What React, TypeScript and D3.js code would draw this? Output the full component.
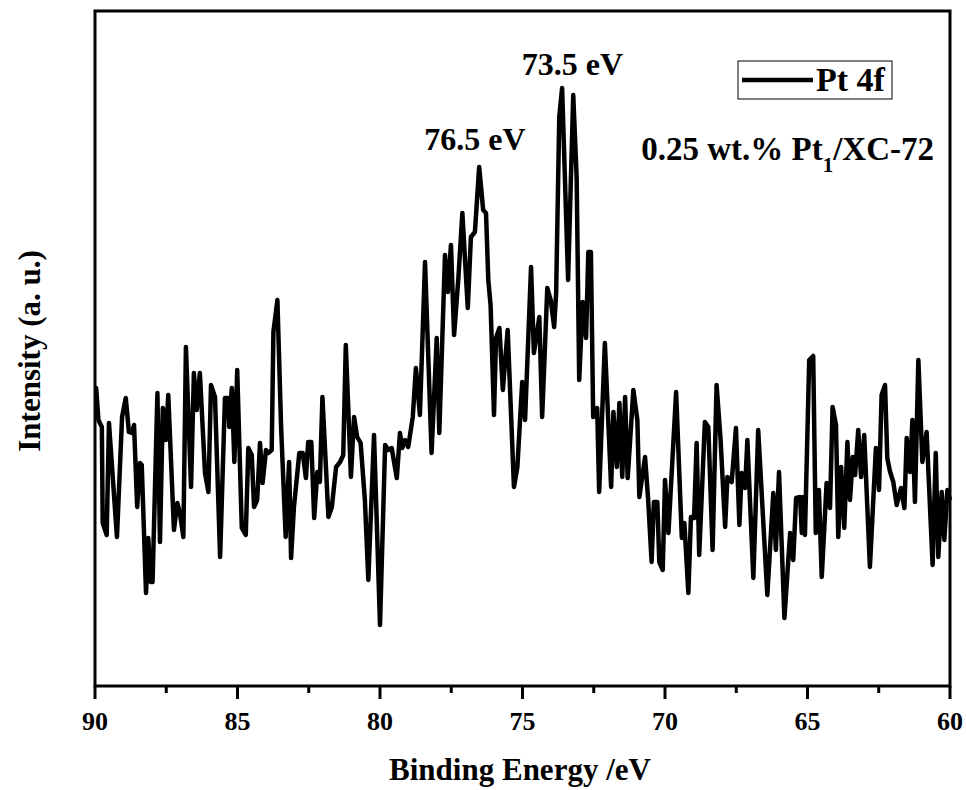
import React from "react";
import * as d3 from "d3";

// Binding energy (eV) and intensity (a.u.)
const energies: number[] = [
  90.0, 89.96, 89.88, 89.76, 89.73, 89.59, 89.51, 89.23, 89.05, 88.92, 88.81, 88.71, 88.63, 88.52, 88.42, 88.36,
  88.21, 88.13, 88.05, 87.98, 87.81, 87.72, 87.62, 87.51, 87.43, 87.23, 87.11, 87.02, 86.9, 86.81, 86.63, 86.53,
  86.43, 86.32, 86.14, 86.02, 85.93, 85.79, 85.61, 85.44, 85.33, 85.29, 85.2, 85.11, 85.01, 84.85, 84.71, 84.62,
  84.5, 84.42, 84.31, 84.21, 84.12, 84.0, 83.92, 83.8, 83.74, 83.6, 83.47, 83.31, 83.19, 83.12, 83.02, 82.83,
  82.71, 82.6, 82.52, 82.41, 82.31, 82.2, 82.11, 82.02, 81.81, 81.69, 81.54, 81.4, 81.29, 81.2, 81.02, 80.91,
  80.8, 80.68, 80.53, 80.41, 80.21, 80.0, 79.82, 79.71, 79.59, 79.41, 79.3, 79.22, 79.12, 79.01, 78.85, 78.74,
  78.6, 78.42, 78.19, 78.01, 77.92, 77.72, 77.62, 77.51, 77.4, 77.25, 77.11, 76.92, 76.81, 76.67, 76.52, 76.38,
  76.28, 76.2, 76.12, 76.0, 75.93, 75.81, 75.69, 75.52, 75.3, 75.18, 75.01, 74.91, 74.7, 74.6, 74.41, 74.31,
  74.13, 74.01, 73.89, 73.82, 73.71, 73.61, 73.4, 73.22, 73.1, 73.01, 72.89, 72.77, 72.69, 72.6, 72.52, 72.38,
  72.31, 72.11, 71.89, 71.81, 71.69, 71.6, 71.5, 71.4, 71.31, 71.11, 70.97, 70.9, 70.7, 70.59, 70.47, 70.39,
  70.27, 70.2, 70.08, 70.0, 69.88, 69.61, 69.41, 69.32, 69.18, 69.09, 68.98, 68.89, 68.8, 68.6, 68.48, 68.33,
  68.19, 68.05, 67.89, 67.81, 67.66, 67.51, 67.39, 67.31, 67.19, 67.11, 66.9, 66.73, 66.41, 66.2, 66.11, 66.0,
  65.81, 65.61, 65.5, 65.4, 65.26, 65.2, 65.16, 65.09, 64.94, 64.8, 64.71, 64.6, 64.5, 64.33, 64.21, 64.12,
  64.0, 63.92, 63.82, 63.71, 63.6, 63.51, 63.41, 63.33, 63.22, 63.12, 63.01, 62.81, 62.6, 62.49, 62.4, 62.28,
  62.2, 62.11, 61.99, 61.87, 61.72, 61.6, 61.52, 61.4, 61.32, 61.23, 61.11, 60.97, 60.82, 60.61, 60.5, 60.41,
  60.29, 60.2, 60.09, 60.0,
];

const intensities: number[] = [
  298, 298, 266, 259, 163, 151, 263, 149, 269, 288, 254, 253, 261, 179, 223, 221,
  93, 148, 104, 104, 293, 144, 278, 246, 291, 156, 183, 173, 149, 339, 199, 313,
  276, 313, 213, 194, 301, 289, 129, 288, 288, 259, 298, 224, 316, 158, 151, 238,
  231, 179, 186, 243, 203, 236, 233, 236, 354, 386, 259, 149, 224, 128, 179, 233,
  233, 208, 244, 244, 168, 214, 204, 289, 169, 179, 219, 224, 231, 341, 209, 269,
  249, 243, 186, 106, 251, 61, 241, 236, 238, 208, 253, 238, 246, 239, 269, 318,
  271, 424, 233, 348, 253, 431, 394, 441, 351, 408, 473, 378, 449, 454, 519, 476,
  473, 406, 381, 271, 348, 358, 296, 356, 199, 219, 304, 266, 419, 333, 369, 269,
  398, 386, 359, 393, 569, 598, 406, 591, 509, 306, 384, 348, 434, 434, 269, 278,
  194, 343, 199, 274, 219, 283, 209, 289, 208, 296, 266, 189, 229, 186, 124, 184,
  184, 124, 116, 206, 153, 294, 148, 163, 93, 169, 168, 243, 131, 264, 259, 136,
  301, 246, 159, 209, 204, 258, 161, 213, 198, 246, 108, 256, 91, 193, 136, 214,
  68, 153, 126, 188, 189, 153, 189, 151, 326, 330, 153, 196, 109, 203, 178, 279,
  261, 149, 219, 158, 244, 186, 229, 211, 256, 209, 251, 119, 238, 196, 291, 301,
  228, 215, 204, 181, 198, 178, 248, 214, 266, 184, 326, 224, 254, 121, 233, 129,
  194, 146, 196, 186,
];

const majorTicks: number[] = [90, 85, 80, 75, 70, 65, 60];
const minorTicks: number[] = [87.5, 82.5, 77.5, 72.5, 67.5, 62.5];
const peakLabels: { text: string; energy: number; intensity: number }[] = [
  { text: "73.5 eV", energy: 73.25, intensity: 611 },
  { text: "76.5 eV", energy: 76.67, intensity: 536 },
];

const W = 966;
const H = 790;
const left = 95, right = 950, top = 11, bottom = 686;
const FONT = "'Liberation Serif', 'Times New Roman', serif";

export default function App() {
  const x = d3.scaleLinear().domain([90, 60]).range([left, right]);
  const y = d3.scaleLinear().domain([0, 675]).range([bottom, top]);
  const pts = energies.map((e, i) => [e, intensities[i]] as [number, number]);
  const line = d3
    .line<[number, number]>()
    .x((d) => x(d[0]))
    .y((d) => y(d[1]));

  return (
    <div style={{ position: "absolute", left: 0, top: 0 }}>
      <svg width={W} height={H} style={{ display: "block", background: "#fff" }} fontFamily={FONT}>
        <path d={line(pts) || ""} fill="none" stroke="#000" strokeWidth={4.5} strokeLinejoin="round" />
        <rect x={left} y={top} width={right - left} height={bottom - top} fill="none" stroke="#000" strokeWidth={3} />
        {majorTicks.map((t) => (
          <g key={"M" + t}>
            <line x1={x(t)} x2={x(t)} y1={bottom} y2={bottom + 13} stroke="#000" strokeWidth={3} />
            <text x={x(t)} y={730} textAnchor="middle" fontSize={26} fontWeight="bold">
              {t}
            </text>
          </g>
        ))}
        {minorTicks.map((t) => (
          <line key={"m" + t} x1={x(t)} x2={x(t)} y1={bottom} y2={bottom + 7} stroke="#000" strokeWidth={3} />
        ))}
        <text x={520} y={780} textAnchor="middle" fontSize={31} fontWeight="bold">
          Binding Energy /eV
        </text>
        <text
          transform={`translate(40,351) rotate(-90)`}
          textAnchor="middle"
          fontSize={31}
          fontWeight="bold"
        >
          Intensity (a. u.)
        </text>
        {peakLabels.map((p) => (
          <text key={p.text} x={x(p.energy)} y={y(p.intensity)} textAnchor="middle" fontSize={32} fontWeight="bold">
            {p.text}
          </text>
        ))}
        <rect x={738} y={61} width={154} height={38} fill="#fff" stroke="#000" strokeWidth={1} />
        <line x1={742} x2={813} y1={80} y2={80} stroke="#000" strokeWidth={4.5} />
        <text x={816} y={91} fontSize={34} fontWeight="bold">
          Pt 4f
        </text>
        <text x={934} y={160} textAnchor="end" fontSize={33} fontWeight="bold">
          0.25 wt.% Pt
          <tspan fontSize={21} dy={12}>1</tspan>
          <tspan dy={-12}>/XC-72</tspan>
        </text>
      </svg>
    </div>
  );
}
